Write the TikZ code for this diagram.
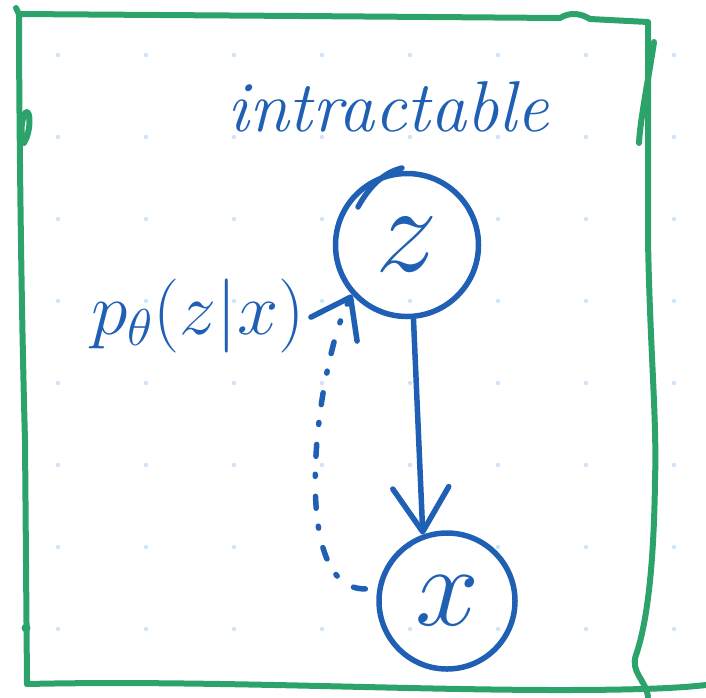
\RequirePackage{fix-cm}
\documentclass[tikz,border=0pt]{standalone}
\usetikzlibrary{arrows.meta}
\definecolor{inkblue}{HTML}{1F5FB4}
\definecolor{framegreen}{HTML}{2BA36B}
\definecolor{dotblue}{HTML}{CFE4F9}
\tikzset{
    ink/.style={draw=inkblue,line width=5.5pt,line cap=round,line join=round},
    graph node/.style={
        circle,ink,inner sep=0pt,
        text=inkblue
    },
    frame line/.style={draw=framegreen,line width=6pt,line cap=round,line join=round},
    grid dot/.style={fill=dotblue},
    >={Straight Barb[length=44pt,width=56pt,round]}
}

\begin{document}
\begin{tikzpicture}[x=1pt,y=-1pt]
\useasboundingbox (0,0) rectangle (706,697);
\foreach \i in {0,...,7}
    \foreach \j in {0,...,7}
        \fill[grid dot] (58+88*\i,55+82*\j) circle (2.2pt);
% frame
\draw[frame line] (27,684) -- (25,440) .. controls (21,300) and (19,100) .. (19,14) -- (16,8);
\draw[frame line] (19,14) -- (300,16) -- (560,18) .. controls (570,12) and (580,13) .. (590,19) -- (648,22)
    -- (648,240) .. controls (650,350) and (657,420) .. (655,480) .. controls (654,560) and (648,620) .. (636,655)
    .. controls (630,672) and (646,680) .. (648,697);
\draw[frame line] (27,684) .. controls (200,680) and (400,690) .. (560,690) .. controls (640,690) and (680,688) .. (706,685);
\draw[frame line] (654,42) .. controls (650,70) and (640,120) .. (639,143);
\draw[frame line] (24,143) .. controls (31,132) and (31,110) .. (26,112) .. controls (21,118) and (21,134) .. (22,140);
\fill[framegreen] (26,628) circle (4.5pt);
% graph
\node[graph node,minimum size=143pt,font=\fontsize{125}{125}\selectfont] (z) at (407,245) {$z$};
\node[graph node,minimum size=136pt,font=\fontsize{115}{115}\selectfont] (x) at (447,601) {$x$};
\node[text=inkblue,font=\fontsize{72}{72}\selectfont\itshape,anchor=base west] (title) at (224,131) {intractable};
\node[text=inkblue,font=\fontsize{74}{74}\selectfont,anchor=base west] (posterior) at (88,334) {$p_\theta(z|x)$};
\draw[ink] (358,207) .. controls (370,185) and (385,172) .. (402,168);
\draw[ink,->] (z.-85) -- (x.110);
\draw[ink,-{Straight Barb[length=36pt,width=52pt,round]},dash pattern=on 12pt off 20pt on 2pt off 18pt,shorten <=12pt]
    (x.170) .. controls (285,590) and (318,360) .. (z.222);
\end{tikzpicture}
\end{document}
